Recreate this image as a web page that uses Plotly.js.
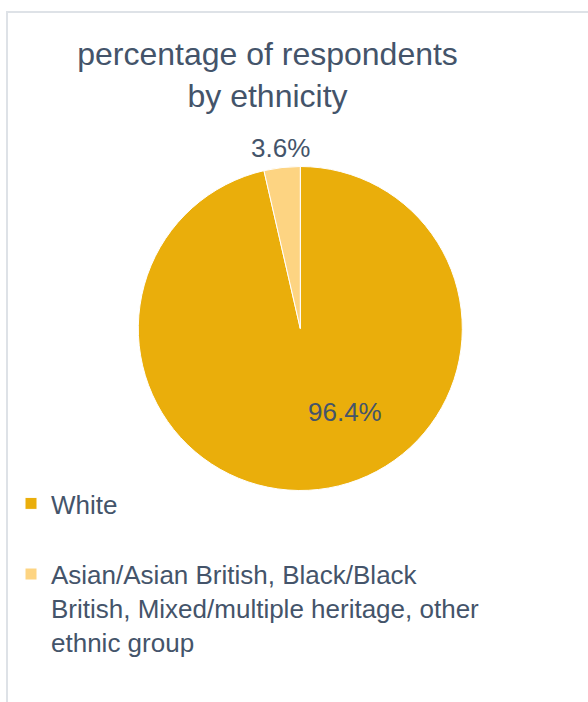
<!DOCTYPE html>
<html>
<head>
<meta charset="utf-8">
<script src="https://cdn.plot.ly/plotly-3.0.1.min.js"></script>
<style>
  html, body { margin: 0; padding: 0; background: #ffffff; }
  #wrap { position: relative; width: 588px; height: 702px; overflow: hidden; }
  #chart { position: absolute; left: 0; top: 0; width: 588px; height: 702px; }
  #frame { position: absolute; left: 6px; top: 11px; width: 700px; height: 800px;
           border-left: 2px solid #DEE2E7; border-top: 2px solid #DEE2E7; pointer-events: none; }
</style>
</head>
<body>
<div id="wrap">
  <div id="frame"></div>
  <div id="chart"></div>
</div>
<script>
const categories = [
  "White",
  "Asian/Asian British, Black/Black<br>British, Mixed/multiple heritage, other<br>ethnic group"
];
const shares = [96.4, 3.6];
const sliceColors = ["#EAAE0B", "#FDD482"];
const chartTitle = "percentage of respondents<br>by ethnicity";

const textColor = "#44546A";
const fontFam = "Liberation Sans, Arial, sans-serif";

const legendNames = categories.map((c, i) => i === 0 ? c + "<br> " : c);

const trace = {
  type: "pie",
  labels: legendNames,
  values: shares,
  sort: false,
  direction: "clockwise",
  rotation: 0,
  marker: { colors: sliceColors, line: { color: "#ffffff", width: 1 } },
  textinfo: "none",
  domain: { x: [138.3 / 588, 462.3 / 588], y: [1 - 491 / 702, 1 - 166 / 702] },
  hoverinfo: "label+percent"
};

// data labels (text taken from the share values)
const labelSpots = [
  { x: 345 / 588, y: 1 - 412 / 702 },
  { x: 280 / 588, y: 1 - 148 / 702 }
];
const annotations = shares.map((v, i) => ({
  text: v.toFixed(1) + "%",
  xref: "paper", yref: "paper",
  x: labelSpots[i].x, y: labelSpots[i].y,
  xanchor: "center", yanchor: "middle",
  showarrow: false,
  font: { family: fontFam, size: 26, color: textColor }
}));

const layout = {
  width: 588,
  height: 702,
  margin: { l: 0, r: 0, t: 0, b: 0 },
  paper_bgcolor: "rgba(0,0,0,0)",
  plot_bgcolor: "rgba(0,0,0,0)",
  font: { family: fontFam, color: textColor },
  title: {
    text: chartTitle,
    font: { family: fontFam, size: 32, color: textColor },
    x: 267.5 / 588,
    xanchor: "center",
    xref: "paper",
    y: 1 - 65 / 702,
    yref: "container",
    yanchor: "top"
  },
  annotations: annotations,
  showlegend: true,
  legend: {
    x: 11 / 588,
    xanchor: "left",
    y: 1 - 480 / 702,
    yanchor: "top",
    valign: "top",
    font: { family: fontFam, size: 26, color: textColor },
    bgcolor: "rgba(0,0,0,0)",
    borderwidth: 0
  }
};

Plotly.newPlot("chart", [trace], layout, { displayModeBar: false, staticPlot: true });
</script>
</body>
</html>
